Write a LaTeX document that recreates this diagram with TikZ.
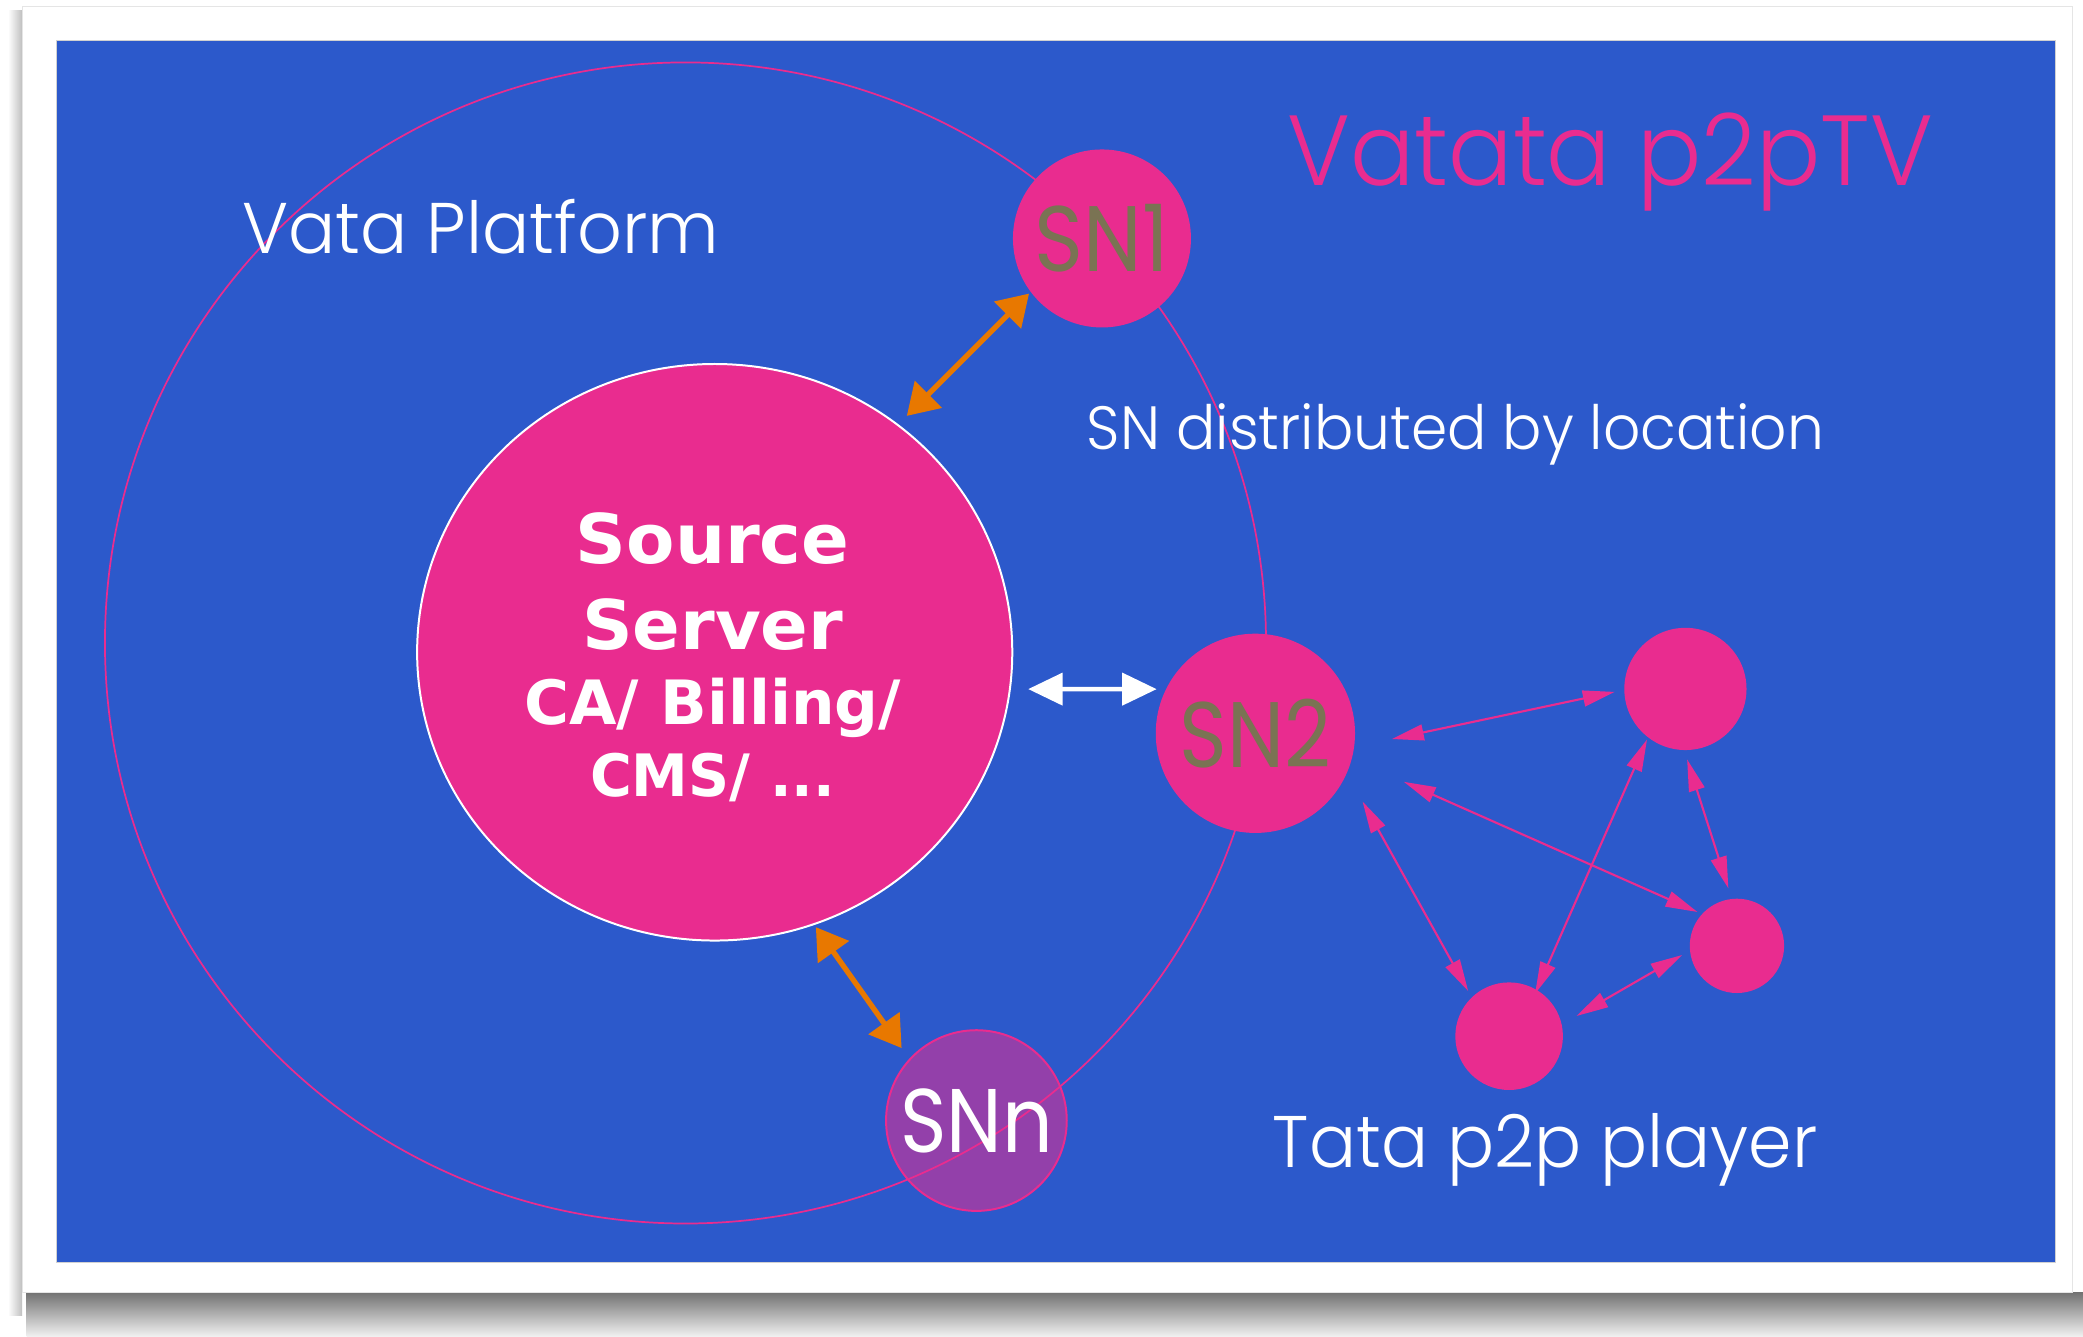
\documentclass[tikz,border=0pt]{standalone}
\usepackage{fontspec}
\setmainfont{Poppins Light}
\newfontfamily\preg{Poppins}
\newfontfamily\dvs{DejaVu Sans}
\usetikzlibrary{arrows.meta,calc,shapes.geometric}
\definecolor{bgblue}{RGB}{44,89,203}
\definecolor{mag}{RGB}{233,44,143}
\definecolor{orng}{RGB}{232,120,0}
\definecolor{olive}{RGB}{122,115,83}
\newlength\fitlen
\newcommand\fitw[2]{\settowidth{\fitlen}{#2}\pgfmathsetmacro\fitr{#1/\fitlen}\scalebox{\fitr}[1]{#2}}
\tikzset{
  snnode/.style={circle, fill=mag, inner sep=0pt, minimum size=#1},
  lbl/.style={inner sep=0pt, anchor=base west, text=white},
  ssl/.style={inner sep=0pt, anchor=base, text=white},
  parrow/.style={color=mag, line width=1.6pt, {Triangle[length=24pt,width=12pt]}-{Triangle[length=24pt,width=12pt]}},
  oarrow/.style={color=orng, line width=4pt, {Triangle[length=23pt,width=28pt]}-{Triangle[length=23pt,width=28pt]}},
  warrow/.style={color=white, line width=3.5pt, {Triangle[length=26pt,width=24pt]}-{Triangle[length=26pt,width=24pt]}},
}
\begin{document}
\begin{tikzpicture}[x=1pt,y=-1pt]
\useasboundingbox (0,0) rectangle (1568,1005.7);
\fill[white] (0,0) rectangle (1568,1005.7);
% card shadow
\shade[top color=black!55, bottom color=black!6] (20,973) rectangle (1568,1005.7);
\shade[left color=white, right color=black!25] (6,8) rectangle (16.6,990);
\fill[white] (16.6,4.5) rectangle (1560,973);
\draw[black!10, line width=0.6pt] (16.6,4.5) rectangle (1560,973);
% blue panel
\fill[bgblue] (42.2,30.1) rectangle (1547,950);
\draw[black!18, line width=0.6pt] (42.2,30.1) rectangle (1547,950);
% platform circle
\node[circle, draw=mag, line width=1.3pt, minimum size=874pt, inner sep=0pt] (plat) at (516,484) {};
% source server
\node[ellipse, fill=mag, draw=white, line width=1.5pt, minimum width=448pt, minimum height=434pt, inner sep=0pt] (ss) at (538,491) {};
% super nodes
\node[snnode=134pt, text=olive] (sn1) at (829.5,179.5) {\preg\fontsize{70}{80}\selectfont\fitw{101}{SN1}};
\node[snnode=150pt, text=olive] (sn2) at (945,552) {\preg\fontsize{70}{80}\selectfont\fitw{114}{SN2}};
\node[circle, fill=mag, fill opacity=0.55, text opacity=1, draw=mag, line width=1.5pt, minimum size=136pt, inner sep=0pt, text=white] (snn) at (735,843.5) {\preg\fontsize{68}{80}\selectfont\fitw{115}{SNn}};
% players
\node[snnode=92pt] (p1) at (1268.7,518.6) {};
\node[snnode=71pt] (p2) at (1307.5,712) {};
\node[snnode=81pt] (p3) at (1136,780) {};
% player arrows
\draw[parrow] ($(sn2)+(2.4:102.9)$) -- ($(p1)+(177.6:53.3)$);
\draw[parrow] ($(sn2)+(18.1:117.6)$) -- ($(p2)+(220.6:39.2)$);
\draw[parrow] ($(sn2)+(32.5:95.7)$) -- ($(p3)+(227.8:45.9)$);
\draw[parrow] ($(p1)+(127.2:47.8)$) -- ($(p3)+(-58.6:37.5)$);
\draw[parrow] ($(p1)+(88.6:53.1)$) -- ($(p2)+(261.5:43.8)$);
\draw[parrow] ($(p3)+(-16.7:53)$) -- ($(p2)+(170.5:41.8)$);
% orange and white arrows
\draw[oarrow] ($(ss)+(-50.9:229.3)$) -- ($(sn1)+(142.9:68.8)$);
\draw[oarrow] ($(ss)+(69.8:220.5)$) -- ($(snn)+(224.1:78.4)$);
\draw[warrow] ($(ss)+(6.7:237.6)$) -- ($(sn2)+(204.1:81.4)$);
% source server text
\node[ssl] (t1) at (536.5,424) {\dvs\bfseries\fontsize{51.6}{56}\selectfont\fitw{206}{Source}};
\node[ssl] (t2) at (536.5,489) {\dvs\bfseries\fontsize{51.6}{56}\selectfont\fitw{196.6}{Server}};
\node[ssl] (t3) at (536.5,545.7) {\dvs\bfseries\fontsize{46}{50}\selectfont\fitw{283.5}{CA/ Billing/}};
\node[ssl] (t4) at (536.5,599.7) {\dvs\bfseries\fontsize{44}{50}\selectfont\fitw{184.5}{CMS/ ...}};
% labels
\node[lbl] (vp) at (182,191) {\fontsize{54}{60}\selectfont\fitw{359}{Vata Platform}};
\node[lbl, text=mag] (title) at (969,139.3) {\fontsize{75}{80}\selectfont\fitw{486}{Vatata p2pTV}};
\node[lbl] (dist) at (818,338.7) {\fontsize{46}{50}\selectfont\fitw{555}{SN distributed by location}};
\node[lbl] (tata) at (958,878.8) {\fontsize{55}{60}\selectfont\fitw{410}{Tata p2p player}};
\end{tikzpicture}
\end{document}
